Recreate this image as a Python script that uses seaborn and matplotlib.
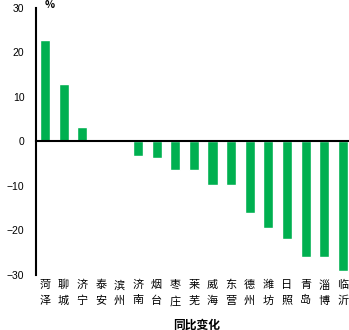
import matplotlib
matplotlib.use("Agg")
import matplotlib.pyplot as plt
import matplotlib.transforms as mtransforms
import seaborn as sns
import pandas as pd
import numpy as np

cities = ["菏泽", "聊城", "济宁", "泰安", "滨州", "济南", "烟台", "枣庄", "莱芜",
          "威海", "东营", "德州", "潍坊", "日照", "青岛", "淄博", "临沂"]
values = [22.7, 12.8, 3.1, 0.0, 0.0, -3.3, -3.7, -6.4, -6.4,
          -9.9, -9.9, -16.1, -19.5, -21.9, -26.0, -26.0, -29.1]
yticks = [-30, -20, -10, 0, 10, 20, 30]
unit_label = "%"
x_title = "同比变化"

sns.set_style("white")
plt.rcParams['font.family'] = ['Noto Sans CJK SC', 'DejaVu Sans']

df = pd.DataFrame({"city": cities, "value": values})

fig = plt.figure(figsize=(3.49, 3.30), dpi=100)
ax = fig.add_axes([0.102, 0.168, 0.907, 0.809])

sns.barplot(data=df, x="city", y="value", color="#00B050", width=0.54,
            saturation=1, ax=ax, order=cities)

n = len(cities)
ax.set_xlim(-0.5, n - 0.5)
ax.set_ylim(-30, 30)
ax.set_yticks(yticks)
ax.set_yticklabels([f"{v}".replace("-", "−") for v in yticks],
                   fontsize=7.5, family=['Liberation Sans', 'DejaVu Sans'])

for s in ["top", "right"]:
    ax.spines[s].set_visible(False)
ax.spines["left"].set_linewidth(1.5)
ax.spines["left"].set_color("black")
ax.spines["bottom"].set_position(("data", 0))
ax.spines["bottom"].set_linewidth(1.5)
ax.spines["bottom"].set_color("black")

ax.tick_params(axis="y", direction="in", length=3, width=1.5, pad=8, colors="black")
ax.set_xticks(np.arange(0.5, n - 0.5, 1.0))
ax.set_xticklabels([])
ax.tick_params(axis="x", direction="in", length=3, width=1.5, colors="black")
ax.set_xlabel("")
ax.set_ylabel("")

trans = mtransforms.blended_transform_factory(ax.transData, ax.transAxes)
for i, c in enumerate(cities):
    ax.text(i, -0.02, "\n".join(c), transform=trans, ha="center", va="top",
            fontsize=8, linespacing=1.65, color="black")

fig.text(0.562, 0.015, x_title, ha="center", va="center",
         fontsize=8.5, fontweight="bold", color="black")
ax.text(0.045, 1.01, unit_label, transform=ax.transAxes, ha="center", va="center",
        fontsize=7.5, fontweight="bold", color="black")

fig.savefig("out.png", dpi=100)
